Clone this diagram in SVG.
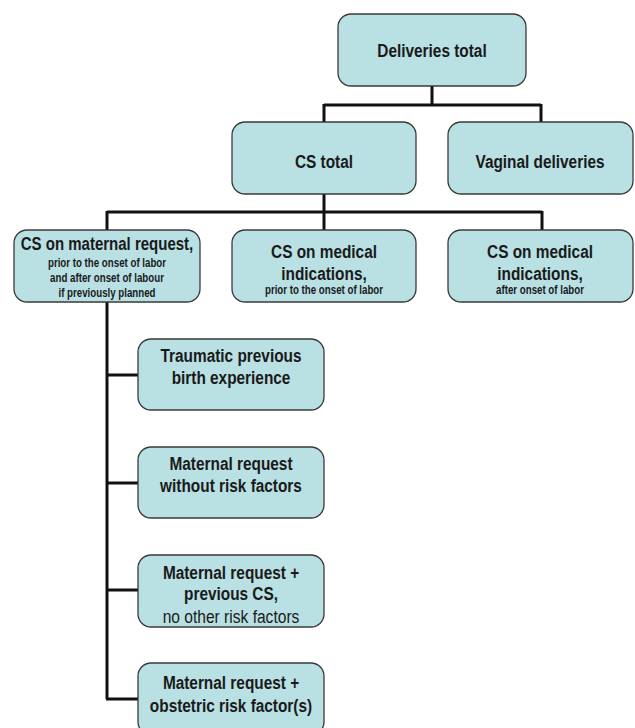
<svg xmlns="http://www.w3.org/2000/svg" width="635" height="728" viewBox="0 0 635 728">
<style>
.box{fill:#b9e0e3;stroke:#3a3a3a;stroke-width:1.3}
.t{font-family:"Liberation Sans",Arial,sans-serif;font-weight:bold;font-size:19px;fill:#1a1a1a;text-anchor:middle}
.s{font-size:12px}
.r{font-weight:normal;font-size:19px}
.c{fill:none;stroke:#111;stroke-width:3}
</style>
<rect width="635" height="728" fill="#fff"/>
<g id="connectors">
<path class="c" d="M432 86V105M324 105H541M324 104V122M541 104V122"/>
<path class="c" d="M324 194V212M107 212H542M107 211V230M324 211V230M542 211V230"/>
<path class="c" d="M107 302V699M106 375H138M106 483H138M106 590H138M106 699H138"/>
</g>
<g id="n-deliveries"><rect class="box" x="338" y="14" width="188" height="72" rx="13"/><text class="t" transform="translate(432 57) scale(.81 1)">Deliveries total</text></g>
<g id="n-cstotal"><rect class="box" x="232" y="122" width="184" height="72" rx="13"/><text class="t" transform="translate(324 168) scale(.81 1)">CS total</text></g>
<g id="n-vaginal"><rect class="box" x="448" y="122" width="185" height="72" rx="13"/><text class="t" transform="translate(540 168) scale(.81 1)">Vaginal deliveries</text></g>
<g id="n-request"><rect class="box" x="14" y="230" width="186" height="72" rx="13"/>
<text class="t" transform="translate(107 250) scale(.79 1)">CS on maternal request,</text>
<text class="t s" transform="translate(107 267) scale(.81 1)">prior to the onset of labor</text>
<text class="t s" transform="translate(107 282) scale(.81 1)">and after onset of labour</text>
<text class="t s" transform="translate(107 297) scale(.81 1)">if previously planned</text></g>
<g id="n-medprior"><rect class="box" x="232" y="230" width="184" height="72" rx="13"/>
<text class="t" transform="translate(324 258) scale(.81 1)">CS on medical</text>
<text class="t" transform="translate(324 280) scale(.81 1)">indications,</text>
<text class="t s" transform="translate(324 294) scale(.81 1)">prior to the onset of labor</text></g>
<g id="n-medafter"><rect class="box" x="448" y="230" width="185" height="72" rx="13"/>
<text class="t" transform="translate(540 258) scale(.81 1)">CS on medical</text>
<text class="t" transform="translate(540 280) scale(.81 1)">indications,</text>
<text class="t s" transform="translate(540 294) scale(.81 1)">after onset of labor</text></g>
<g id="n-traumatic"><rect class="box" x="138" y="339" width="186" height="71" rx="13"/>
<text class="t" transform="translate(231 362) scale(.81 1)">Traumatic previous</text>
<text class="t" transform="translate(231 384) scale(.81 1)">birth experience</text></g>
<g id="n-norisk"><rect class="box" x="138" y="447" width="186" height="71" rx="13"/>
<text class="t" transform="translate(231 470) scale(.81 1)">Maternal request</text>
<text class="t" transform="translate(231 492) scale(.81 1)">without risk factors</text></g>
<g id="n-prevcs"><rect class="box" x="138" y="555" width="186" height="72" rx="13"/>
<text class="t" transform="translate(231 579) scale(.81 1)">Maternal request +</text>
<text class="t" transform="translate(231 600) scale(.81 1)">previous CS,</text>
<text class="t r" transform="translate(231 623) scale(.82 1)">no other risk factors</text></g>
<g id="n-obstetric"><rect class="box" x="138" y="663" width="186" height="72" rx="13"/>
<text class="t" transform="translate(231 689) scale(.81 1)">Maternal request +</text>
<text class="t" transform="translate(231 712) scale(.81 1)">obstetric risk factor(s)</text></g>
</svg>
